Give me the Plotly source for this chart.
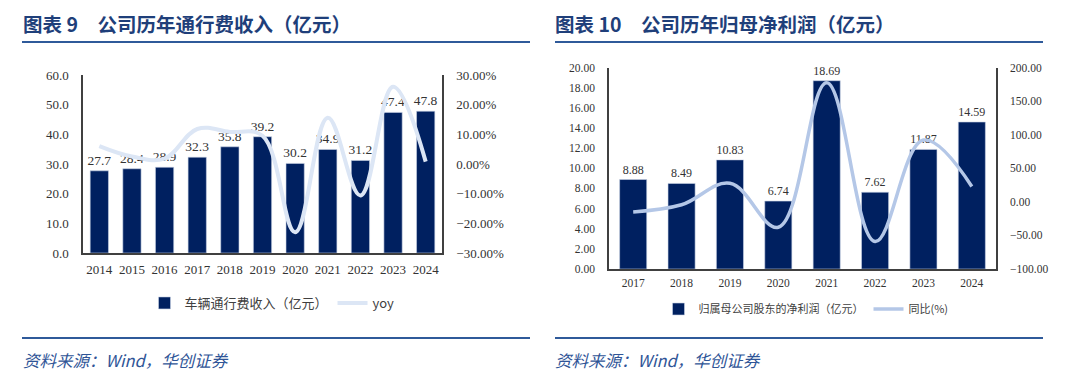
import plotly.graph_objects as go

# Chart 1 data
years1 = ["2014", "2015", "2016", "2017", "2018", "2019", "2020", "2021", "2022", "2023", "2024"]
toll_revenue = [27.7, 28.4, 28.9, 32.3, 35.8, 39.2, 30.2, 34.9, 31.2, 47.4, 47.8]
toll_yoy = [6.0, 2.5, 1.8, 11.8, 10.8, 9.5, -23.0, 15.6, -10.6, 26.0, 0.8]

# Chart 2 data
years2 = ["2017", "2018", "2019", "2020", "2021", "2022", "2023", "2024"]
net_profit = [8.88, 8.49, 10.83, 6.74, 18.69, 7.62, 11.87, 14.59]
profit_yoy = [-15.0, -4.4, 27.6, -37.8, 177.3, -59.2, 92.0, 22.9]

title1 = "图表 9　公司历年通行费收入（亿元）"
title2 = "图表 10　公司历年归母净利润（亿元）"
source_text = "资料来源：Wind，华创证券"

NAVY = "#002060"
SERIF = "Liberation Serif, Times New Roman, serif"
CJK = "Noto Sans CJK SC, sans-serif"
AX = "#404040"
TITLE_C = "#1f3f7a"
W, H = 1080, 383

def px_x(x):
    return x / W

def px_y(y):
    return 1 - y / H

fig = go.Figure()

fig.add_trace(go.Bar(
    x=years1, y=toll_revenue, name="车辆通行费收入（亿元）",
    marker=dict(color=NAVY, line=dict(color="#c9d3e6", width=0.6)),
    text=[f"{v:.1f}" for v in toll_revenue], textposition="outside", constraintext="none",
    textfont=dict(family=SERIF, size=13.5, color="#333333"),
    cliponaxis=False, xaxis="x", yaxis="y", legend="legend",
))
fig.add_trace(go.Scatter(
    x=years1, y=toll_yoy, name="yoy", mode="lines",
    line=dict(color="#dce6f5", width=4, shape="spline", smoothing=1.1),
    xaxis="x", yaxis="y2", legend="legend",
))
fig.add_trace(go.Bar(
    x=years2, y=net_profit, name="归属母公司股东的净利润（亿元）",
    marker=dict(color=NAVY, line=dict(color="#c9d3e6", width=0.6)),
    text=[f"{v:.2f}" for v in net_profit], textposition="outside", constraintext="none",
    textfont=dict(family=SERIF, size=12, color="#333333"),
    cliponaxis=False, xaxis="x2", yaxis="y3", legend="legend2",
))
fig.add_trace(go.Scatter(
    x=years2, y=profit_yoy, name="同比(%)", mode="lines",
    line=dict(color="#b4c7e7", width=3.5, shape="spline", smoothing=1.1),
    xaxis="x2", yaxis="y4", legend="legend2",
))

axis_common = dict(showgrid=False, zeroline=False, showline=True, linecolor=AX, linewidth=1.5,
                   ticks="", fixedrange=True, automargin=False)

fig.update_layout(
    width=W, height=H,
    margin=dict(l=0, r=0, t=0, b=0, autoexpand=False),
    paper_bgcolor="white", plot_bgcolor="white",
    bargap=0.44,
    showlegend=True,
    xaxis=dict(domain=[px_x(83), px_x(442)], anchor="y", **axis_common,
               tickfont=dict(family=SERIF, size=13, color="#333333"), ticklabelstandoff=4),
    yaxis=dict(domain=[px_y(253), px_y(75)], anchor="x", range=[0, 60], dtick=10,
               tickformat=".1f", **axis_common,
               tickfont=dict(family=SERIF, size=13, color="#333333"), ticklabelstandoff=10),
    yaxis2=dict(overlaying="y", side="right", anchor="x", range=[-30, 30], dtick=10,
                ticksuffix="%", tickformat=".2f", **axis_common,
                tickfont=dict(family=SERIF, size=13, color="#333333"), ticklabelstandoff=10),
    xaxis2=dict(domain=[px_x(609), px_x(996)], anchor="y3", **axis_common,
                tickfont=dict(family=SERIF, size=11.5, color="#333333"), ticklabelstandoff=2),
    yaxis3=dict(domain=[px_y(269), px_y(67.5)], anchor="x2", range=[0, 20], dtick=2,
                tickformat=".2f", **axis_common,
                tickfont=dict(family=SERIF, size=11.5, color="#333333"), ticklabelstandoff=10),
    yaxis4=dict(overlaying="y3", side="right", anchor="x2", range=[-100, 200], dtick=50,
                tickformat=".2f", **axis_common,
                tickfont=dict(family=SERIF, size=11.5, color="#333333"), ticklabelstandoff=10),
    legend=dict(orientation="h", x=px_x(272), y=px_y(303), xanchor="center", yanchor="middle",
                font=dict(family=CJK, size=13, color="#404040"), itemwidth=30,
                bgcolor="rgba(0,0,0,0)", traceorder="normal"),
    legend2=dict(orientation="h", x=px_x(806), y=px_y(309), xanchor="center", yanchor="middle",
                 font=dict(family=CJK, size=11, color="#404040"), itemwidth=30,
                 bgcolor="rgba(0,0,0,0)", traceorder="normal"),
)

shapes = []
annotations = []
for x0, x1, tx, title in [(22, 530, 21, title1), (555, 1043, 553, title2)]:
    shapes.append(dict(type="line", xref="paper", yref="paper", x0=px_x(x0), x1=px_x(x1),
                       y0=px_y(42), y1=px_y(42), line=dict(color="#2f5a9a", width=2)))
    shapes.append(dict(type="line", xref="paper", yref="paper", x0=px_x(x0), x1=px_x(x1),
                       y0=px_y(338), y1=px_y(338), line=dict(color="#2f5a9a", width=2)))
    annotations.append(dict(text=f"<b>{title}</b>", xref="paper", yref="paper",
                            x=px_x(tx), y=px_y(24), xanchor="left", yanchor="middle",
                            showarrow=False, font=dict(family=CJK, size=19.5, color=TITLE_C)))
    annotations.append(dict(text=f"<i>{source_text}</i>", xref="paper", yref="paper",
                            x=px_x(tx), y=px_y(360), xanchor="left", yanchor="middle",
                            showarrow=False, font=dict(family=CJK, size=16.5, color="#2f5597")))

fig.update_layout(shapes=shapes, annotations=annotations)

fig.write_html("out.html", config={"displayModeBar": False},
               post_script="document.body.style.margin='0';document.body.style.overflow='hidden';")
